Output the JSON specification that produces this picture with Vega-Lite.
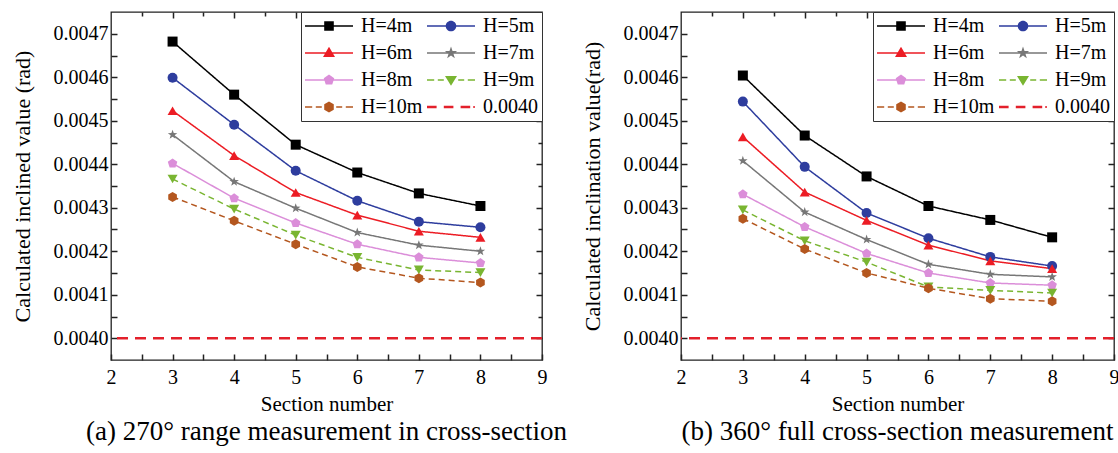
{
  "$schema": "https://vega.github.io/schema/vega-lite/v6.json",
  "background": "white",
  "padding": {"left": 10, "top": 10, "right": 2, "bottom": 4},
  "datasets": {
    "a": [
      {"series": "H=4m", "section": 3, "value": 0.004682}, {"series": "H=4m", "section": 4, "value": 0.00456}, {"series": "H=4m", "section": 5, "value": 0.004445}, {"series": "H=4m", "section": 6, "value": 0.004381}, {"series": "H=4m", "section": 7, "value": 0.004333}, {"series": "H=4m", "section": 8, "value": 0.004304},
      {"series": "H=5m", "section": 3, "value": 0.004599}, {"series": "H=5m", "section": 4, "value": 0.004491}, {"series": "H=5m", "section": 5, "value": 0.004385}, {"series": "H=5m", "section": 6, "value": 0.004316}, {"series": "H=5m", "section": 7, "value": 0.004268}, {"series": "H=5m", "section": 8, "value": 0.004255},
      {"series": "H=6m", "section": 3, "value": 0.004523}, {"series": "H=6m", "section": 4, "value": 0.00442}, {"series": "H=6m", "section": 5, "value": 0.004335}, {"series": "H=6m", "section": 6, "value": 0.004283}, {"series": "H=6m", "section": 7, "value": 0.004246}, {"series": "H=6m", "section": 8, "value": 0.004232},
      {"series": "H=7m", "section": 3, "value": 0.004468}, {"series": "H=7m", "section": 4, "value": 0.00436}, {"series": "H=7m", "section": 5, "value": 0.004299}, {"series": "H=7m", "section": 6, "value": 0.004243}, {"series": "H=7m", "section": 7, "value": 0.004214}, {"series": "H=7m", "section": 8, "value": 0.0042},
      {"series": "H=8m", "section": 3, "value": 0.004402}, {"series": "H=8m", "section": 4, "value": 0.004322}, {"series": "H=8m", "section": 5, "value": 0.004265}, {"series": "H=8m", "section": 6, "value": 0.004216}, {"series": "H=8m", "section": 7, "value": 0.004186}, {"series": "H=8m", "section": 8, "value": 0.004173},
      {"series": "H=9m", "section": 3, "value": 0.004366}, {"series": "H=9m", "section": 4, "value": 0.004297}, {"series": "H=9m", "section": 5, "value": 0.004237}, {"series": "H=9m", "section": 6, "value": 0.004186}, {"series": "H=9m", "section": 7, "value": 0.004157}, {"series": "H=9m", "section": 8, "value": 0.004151},
      {"series": "H=10m", "section": 3, "value": 0.004325}, {"series": "H=10m", "section": 4, "value": 0.00427}, {"series": "H=10m", "section": 5, "value": 0.004216}, {"series": "H=10m", "section": 6, "value": 0.004164}, {"series": "H=10m", "section": 7, "value": 0.004138}, {"series": "H=10m", "section": 8, "value": 0.004128}
    ],
    "b": [
      {"series": "H=4m", "section": 3, "value": 0.004604}, {"series": "H=4m", "section": 4, "value": 0.004466}, {"series": "H=4m", "section": 5, "value": 0.004372}, {"series": "H=4m", "section": 6, "value": 0.004304}, {"series": "H=4m", "section": 7, "value": 0.004272}, {"series": "H=4m", "section": 8, "value": 0.004232},
      {"series": "H=5m", "section": 3, "value": 0.004544}, {"series": "H=5m", "section": 4, "value": 0.004394}, {"series": "H=5m", "section": 5, "value": 0.004288}, {"series": "H=5m", "section": 6, "value": 0.00423}, {"series": "H=5m", "section": 7, "value": 0.004187}, {"series": "H=5m", "section": 8, "value": 0.004166},
      {"series": "H=6m", "section": 3, "value": 0.004463}, {"series": "H=6m", "section": 4, "value": 0.004336}, {"series": "H=6m", "section": 5, "value": 0.004271}, {"series": "H=6m", "section": 6, "value": 0.004214}, {"series": "H=6m", "section": 7, "value": 0.004178}, {"series": "H=6m", "section": 8, "value": 0.00416},
      {"series": "H=7m", "section": 3, "value": 0.004408}, {"series": "H=7m", "section": 4, "value": 0.00429}, {"series": "H=7m", "section": 5, "value": 0.004227}, {"series": "H=7m", "section": 6, "value": 0.00417}, {"series": "H=7m", "section": 7, "value": 0.004147}, {"series": "H=7m", "section": 8, "value": 0.004141},
      {"series": "H=8m", "section": 3, "value": 0.004331}, {"series": "H=8m", "section": 4, "value": 0.004256}, {"series": "H=8m", "section": 5, "value": 0.004195}, {"series": "H=8m", "section": 6, "value": 0.00415}, {"series": "H=8m", "section": 7, "value": 0.004127}, {"series": "H=8m", "section": 8, "value": 0.004122},
      {"series": "H=9m", "section": 3, "value": 0.004295}, {"series": "H=9m", "section": 4, "value": 0.004224}, {"series": "H=9m", "section": 5, "value": 0.004175}, {"series": "H=9m", "section": 6, "value": 0.004118}, {"series": "H=9m", "section": 7, "value": 0.00411}, {"series": "H=9m", "section": 8, "value": 0.004104},
      {"series": "H=10m", "section": 3, "value": 0.004275}, {"series": "H=10m", "section": 4, "value": 0.004205}, {"series": "H=10m", "section": 5, "value": 0.00415}, {"series": "H=10m", "section": 6, "value": 0.004115}, {"series": "H=10m", "section": 7, "value": 0.004091}, {"series": "H=10m", "section": 8, "value": 0.004085}
    ],
    "thr": [{"series": "0.0040", "value": 0.004}]
  },
  "spacing": 12,
  "hconcat": [
    {
      "width": 431,
      "height": 348,
      "title": {"text": "(a) 270° range measurement in cross-section", "orient": "bottom", "anchor": "middle", "frame": "group", "fontSize": 27, "fontWeight": "normal", "font": "Liberation Serif", "color": "black", "offset": 5},
      "layer": [
        {
          "data": {"name": "a"},
          "mark": {"type": "line", "strokeWidth": 1.5},
          "encoding": {
            "x": {"field": "section", "type": "quantitative", "scale": {"domain": [2, 9], "nice": false, "zero": false},
              "axis": {"orient": "bottom", "values": [2, 2.5, 3, 3.5, 4, 4.5, 5, 5.5, 6, 6.5, 7, 7.5, 8, 8.5, 9], "labelExpr": "datum.value % 1 === 0 ? format(datum.value, 'd') : ''", "ticks": true, "tickSize": -6, "domain": false, "grid": false, "labelFlush": false, "labelOverlap": false, "title": "Section number", "labelPadding": 13, "titlePadding": 6}},
            "y": {"field": "value", "type": "quantitative", "scale": {"domain": [0.00395, 0.00475], "nice": false, "zero": false},
              "axis": {"orient": "left", "values": [0.004, 0.00405, 0.0041, 0.00415, 0.0042, 0.00425, 0.0043, 0.00435, 0.0044, 0.00445, 0.0045, 0.00455, 0.0046, 0.00465, 0.0047], "labelExpr": "abs(datum.value*10000 - round(datum.value*10000)) < 0.01 ? format(datum.value, '.4f') : ''", "ticks": true, "tickSize": -6, "domain": false, "grid": false, "labelFlush": false, "labelOverlap": false, "title": "Calculated inclined value (rad)", "labelPadding": 9, "titlePadding": 19, "titleFontSize": 22}},
            "color": {"field": "series", "type": "nominal",
              "scale": {"domain": ["H=4m", "H=5m", "H=6m", "H=7m", "H=8m", "H=9m", "H=10m", "0.0040"], "range": ["#000000", "#2E3D9E", "#EC1C24", "#777777", "#DB8ED9", "#79B531", "#B4571F", "#E3202B"]},
              "legend": {
                "title": null, "orient": "top-right", "offset": 0, "direction": "horizontal", "columns": 2, "gridAlign": "each", "symbolSize": 400, "symbolOffset": 14, "symbolStrokeWidth": 0, "symbolOpacity": 1,
                "labelFontSize": 20, "labelFont": "Liberation Serif", "labelColor": "black", "labelOffset": 22, "labelLimit": 200,
                "columnPadding": 4, "rowPadding": 7, "padding": 4, "strokeColor": "#333333", "fillColor": "white"
              }},
            "strokeDash": {"field": "series", "type": "nominal",
              "scale": {"domain": ["H=4m", "H=5m", "H=6m", "H=7m", "H=8m", "H=9m", "H=10m", "0.0040"], "range": [[1, 0], [1, 0], [1, 0], [1, 0], [1, 0], [6, 4], [6, 4], [11, 7]]}}
          }
        },
        {
          "data": {"name": "a"},
          "mark": {"type": "point", "filled": true, "opacity": 1, "size": 100,
            "shape": {"expr": "datum.series === 'H=4m' ? 'square' : datum.series === 'H=5m' ? 'circle' : datum.series === 'H=6m' ? 'triangle-up' : datum.series === 'H=7m' ? 'M0,-1L0.235,-0.324L0.951,-0.309L0.38,0.124L0.588,0.809L0,0.4L-0.588,0.809L-0.38,0.124L-0.951,-0.309L-0.235,-0.324Z' : datum.series === 'H=8m' ? 'M0,-1L0.951,-0.309L0.588,0.809L-0.588,0.809L-0.951,-0.309Z' : datum.series === 'H=9m' ? 'triangle-down' : 'M0,-1L0.866,-0.5L0.866,0.5L0,1L-0.866,0.5L-0.866,-0.5Z'"}},
          "encoding": {
            "x": {"field": "section", "type": "quantitative", "axis": null},
            "y": {"field": "value", "type": "quantitative", "axis": null},
            "color": {"field": "series", "type": "nominal"}
          }
        },
        {
          "data": {"name": "a"},
          "mark": {"type": "point", "filled": true, "opacity": 0, "size": 400},
          "encoding": {
            "x": {"field": "section", "type": "quantitative",
              "axis": {"orient": "top", "values": [2.5, 3, 3.5, 4, 4.5, 5, 5.5, 6, 6.5, 7, 7.5, 8, 8.5], "labels": false, "domain": false, "grid": false, "title": null, "ticks": true,
                "tickSize": {"condition": {"test": "datum.value % 1 === 0", "value": -6}, "value": -4}}},
            "y": {"field": "value", "type": "quantitative",
              "axis": {"orient": "right", "values": [0.004, 0.00405, 0.0041, 0.00415, 0.0042, 0.00425, 0.0043, 0.00435, 0.0044, 0.00445, 0.0045, 0.00455, 0.0046, 0.00465, 0.0047], "labels": false, "domain": false, "grid": false, "title": null, "ticks": true,
                "tickSize": {"condition": {"test": "abs(datum.value*10000 - round(datum.value*10000)) < 0.01", "value": -6}, "value": -4}}},
            "color": {"field": "series", "type": "nominal"},
            "shape": {"field": "series", "type": "nominal",
              "scale": {"domain": ["H=4m", "H=5m", "H=6m", "H=7m", "H=8m", "H=9m", "H=10m", "0.0040"], "range": [
                "M-2.4,-0.08H2.4V0.08H-2.4ZM-0.48,-0.48H0.48V0.48H-0.48Z",
                "M-2.4,-0.08H2.4V0.08H-2.4ZM0.53,0A0.53,0.53,0,1,1,-0.53,0A0.53,0.53,0,1,1,0.53,0Z",
                "M-2.4,-0.08H2.4V0.08H-2.4ZM0,-0.62L0.6,0.41L-0.6,0.41Z",
                "M-2.4,-0.08H2.4V0.08H-2.4ZM0,-0.65L0.151,-0.209L0.617,-0.199L0.247,0.079L0.382,0.523L0,0.259L-0.382,0.523L-0.247,0.079L-0.617,-0.199L-0.151,-0.209Z",
                "M-2.4,-0.08H2.4V0.08H-2.4ZM0,-0.55L0.526,-0.17L0.324,0.446L-0.324,0.446L-0.526,-0.17Z",
                "M-2.4,-0.08H-1.68V0.08H-2.4ZM-1.32,-0.08H-0.72V0.08H-1.32ZM0.72,-0.08H1.32V0.08H0.72ZM1.68,-0.08H2.4V0.08H1.68ZM0,0.58L-0.6,-0.41L0.6,-0.41Z",
                "M-2.4,-0.08H-1.68V0.08H-2.4ZM-1.32,-0.08H-0.72V0.08H-1.32ZM0.72,-0.08H1.32V0.08H0.72ZM1.68,-0.08H2.4V0.08H1.68ZM0,-0.55L0.478,-0.276L0.478,0.276L0,0.55L-0.478,0.276L-0.478,-0.276Z",
                "M-2.4,-0.13H-1.44V0.13H-2.4ZM-0.72,-0.13H0.24V0.13H-0.72ZM0.96,-0.13H1.92V0.13H0.96ZM2.23,-0.1H2.38V0.1H2.23Z"]}}
          }
        },
        {
          "data": {"name": "thr"},
          "mark": {"type": "rule", "strokeWidth": 2.5},
          "encoding": {
            "y": {"field": "value", "type": "quantitative", "axis": null},
            "color": {"field": "series", "type": "nominal"},
            "strokeDash": {"field": "series", "type": "nominal"}
          }
        }
      ],
      "resolve": {"axis": {"x": "independent", "y": "independent"}}
    },
    {
      "width": 433,
      "height": 348,
      "title": {"text": "(b) 360° full cross-section measurement", "orient": "bottom", "anchor": "middle", "frame": "group", "fontSize": 27, "fontWeight": "normal", "font": "Liberation Serif", "color": "black", "offset": 5},
      "layer": [
        {
          "data": {"name": "b"},
          "mark": {"type": "line", "strokeWidth": 1.5},
          "encoding": {
            "x": {"field": "section", "type": "quantitative", "scale": {"domain": [2, 9], "nice": false, "zero": false},
              "axis": {"orient": "bottom", "values": [2, 2.5, 3, 3.5, 4, 4.5, 5, 5.5, 6, 6.5, 7, 7.5, 8, 8.5, 9], "labelExpr": "datum.value % 1 === 0 ? format(datum.value, 'd') : ''", "ticks": true, "tickSize": -6, "domain": false, "grid": false, "labelFlush": false, "labelOverlap": false, "title": "Section number", "labelPadding": 13, "titlePadding": 6}},
            "y": {"field": "value", "type": "quantitative", "scale": {"domain": [0.00395, 0.00475], "nice": false, "zero": false},
              "axis": {"orient": "left", "values": [0.004, 0.00405, 0.0041, 0.00415, 0.0042, 0.00425, 0.0043, 0.00435, 0.0044, 0.00445, 0.0045, 0.00455, 0.0046, 0.00465, 0.0047], "labelExpr": "abs(datum.value*10000 - round(datum.value*10000)) < 0.01 ? format(datum.value, '.4f') : ''", "ticks": true, "tickSize": -6, "domain": false, "grid": false, "labelFlush": false, "labelOverlap": false, "title": "Calculated inclination value(rad)", "labelPadding": 9, "titlePadding": 19, "titleFontSize": 22}},
            "color": {"field": "series", "type": "nominal",
              "scale": {"domain": ["H=4m", "H=5m", "H=6m", "H=7m", "H=8m", "H=9m", "H=10m", "0.0040"], "range": ["#000000", "#2E3D9E", "#EC1C24", "#777777", "#DB8ED9", "#79B531", "#B4571F", "#E3202B"]},
              "legend": {
                "title": null, "orient": "top-right", "offset": 0, "direction": "horizontal", "columns": 2, "gridAlign": "each", "symbolSize": 400, "symbolOffset": 14, "symbolStrokeWidth": 0, "symbolOpacity": 1,
                "labelFontSize": 20, "labelFont": "Liberation Serif", "labelColor": "black", "labelOffset": 22, "labelLimit": 200,
                "columnPadding": 4, "rowPadding": 7, "padding": 4, "strokeColor": "#333333", "fillColor": "white"
              }},
            "strokeDash": {"field": "series", "type": "nominal",
              "scale": {"domain": ["H=4m", "H=5m", "H=6m", "H=7m", "H=8m", "H=9m", "H=10m", "0.0040"], "range": [[1, 0], [1, 0], [1, 0], [1, 0], [1, 0], [6, 4], [6, 4], [11, 7]]}}
          }
        },
        {
          "data": {"name": "b"},
          "mark": {"type": "point", "filled": true, "opacity": 1, "size": 100,
            "shape": {"expr": "datum.series === 'H=4m' ? 'square' : datum.series === 'H=5m' ? 'circle' : datum.series === 'H=6m' ? 'triangle-up' : datum.series === 'H=7m' ? 'M0,-1L0.235,-0.324L0.951,-0.309L0.38,0.124L0.588,0.809L0,0.4L-0.588,0.809L-0.38,0.124L-0.951,-0.309L-0.235,-0.324Z' : datum.series === 'H=8m' ? 'M0,-1L0.951,-0.309L0.588,0.809L-0.588,0.809L-0.951,-0.309Z' : datum.series === 'H=9m' ? 'triangle-down' : 'M0,-1L0.866,-0.5L0.866,0.5L0,1L-0.866,0.5L-0.866,-0.5Z'"}},
          "encoding": {
            "x": {"field": "section", "type": "quantitative", "axis": null},
            "y": {"field": "value", "type": "quantitative", "axis": null},
            "color": {"field": "series", "type": "nominal"}
          }
        },
        {
          "data": {"name": "b"},
          "mark": {"type": "point", "filled": true, "opacity": 0, "size": 400},
          "encoding": {
            "x": {"field": "section", "type": "quantitative",
              "axis": {"orient": "top", "values": [2.5, 3, 3.5, 4, 4.5, 5, 5.5, 6, 6.5, 7, 7.5, 8, 8.5], "labels": false, "domain": false, "grid": false, "title": null, "ticks": true,
                "tickSize": {"condition": {"test": "datum.value % 1 === 0", "value": -6}, "value": -4}}},
            "y": {"field": "value", "type": "quantitative",
              "axis": {"orient": "right", "values": [0.004, 0.00405, 0.0041, 0.00415, 0.0042, 0.00425, 0.0043, 0.00435, 0.0044, 0.00445, 0.0045, 0.00455, 0.0046, 0.00465, 0.0047], "labels": false, "domain": false, "grid": false, "title": null, "ticks": true,
                "tickSize": {"condition": {"test": "abs(datum.value*10000 - round(datum.value*10000)) < 0.01", "value": -6}, "value": -4}}},
            "color": {"field": "series", "type": "nominal"},
            "shape": {"field": "series", "type": "nominal",
              "scale": {"domain": ["H=4m", "H=5m", "H=6m", "H=7m", "H=8m", "H=9m", "H=10m", "0.0040"], "range": [
                "M-2.4,-0.08H2.4V0.08H-2.4ZM-0.48,-0.48H0.48V0.48H-0.48Z",
                "M-2.4,-0.08H2.4V0.08H-2.4ZM0.53,0A0.53,0.53,0,1,1,-0.53,0A0.53,0.53,0,1,1,0.53,0Z",
                "M-2.4,-0.08H2.4V0.08H-2.4ZM0,-0.62L0.6,0.41L-0.6,0.41Z",
                "M-2.4,-0.08H2.4V0.08H-2.4ZM0,-0.65L0.151,-0.209L0.617,-0.199L0.247,0.079L0.382,0.523L0,0.259L-0.382,0.523L-0.247,0.079L-0.617,-0.199L-0.151,-0.209Z",
                "M-2.4,-0.08H2.4V0.08H-2.4ZM0,-0.55L0.526,-0.17L0.324,0.446L-0.324,0.446L-0.526,-0.17Z",
                "M-2.4,-0.08H-1.68V0.08H-2.4ZM-1.32,-0.08H-0.72V0.08H-1.32ZM0.72,-0.08H1.32V0.08H0.72ZM1.68,-0.08H2.4V0.08H1.68ZM0,0.58L-0.6,-0.41L0.6,-0.41Z",
                "M-2.4,-0.08H-1.68V0.08H-2.4ZM-1.32,-0.08H-0.72V0.08H-1.32ZM0.72,-0.08H1.32V0.08H0.72ZM1.68,-0.08H2.4V0.08H1.68ZM0,-0.55L0.478,-0.276L0.478,0.276L0,0.55L-0.478,0.276L-0.478,-0.276Z",
                "M-2.4,-0.13H-1.44V0.13H-2.4ZM-0.72,-0.13H0.24V0.13H-0.72ZM0.96,-0.13H1.92V0.13H0.96ZM2.23,-0.1H2.38V0.1H2.23Z"]}}
          }
        },
        {
          "data": {"name": "thr"},
          "mark": {"type": "rule", "strokeWidth": 2.5},
          "encoding": {
            "y": {"field": "value", "type": "quantitative", "axis": null},
            "color": {"field": "series", "type": "nominal"},
            "strokeDash": {"field": "series", "type": "nominal"}
          }
        }
      ],
      "resolve": {"axis": {"x": "independent", "y": "independent"}}
    }
  ],
  "resolve": {"legend": {"color": "independent", "shape": "independent", "strokeDash": "independent"}},
  "config": {
    "font": "Liberation Serif",
    "view": {"stroke": "#222222", "strokeWidth": 1.3},
    "axis": {"labelFont": "Liberation Serif", "labelFontSize": 20, "labelColor": "black", "titleFont": "Liberation Serif", "titleFontSize": 21, "titleFontWeight": "normal", "titleColor": "black", "tickColor": "#222222", "tickWidth": 1.5}
  }
}
